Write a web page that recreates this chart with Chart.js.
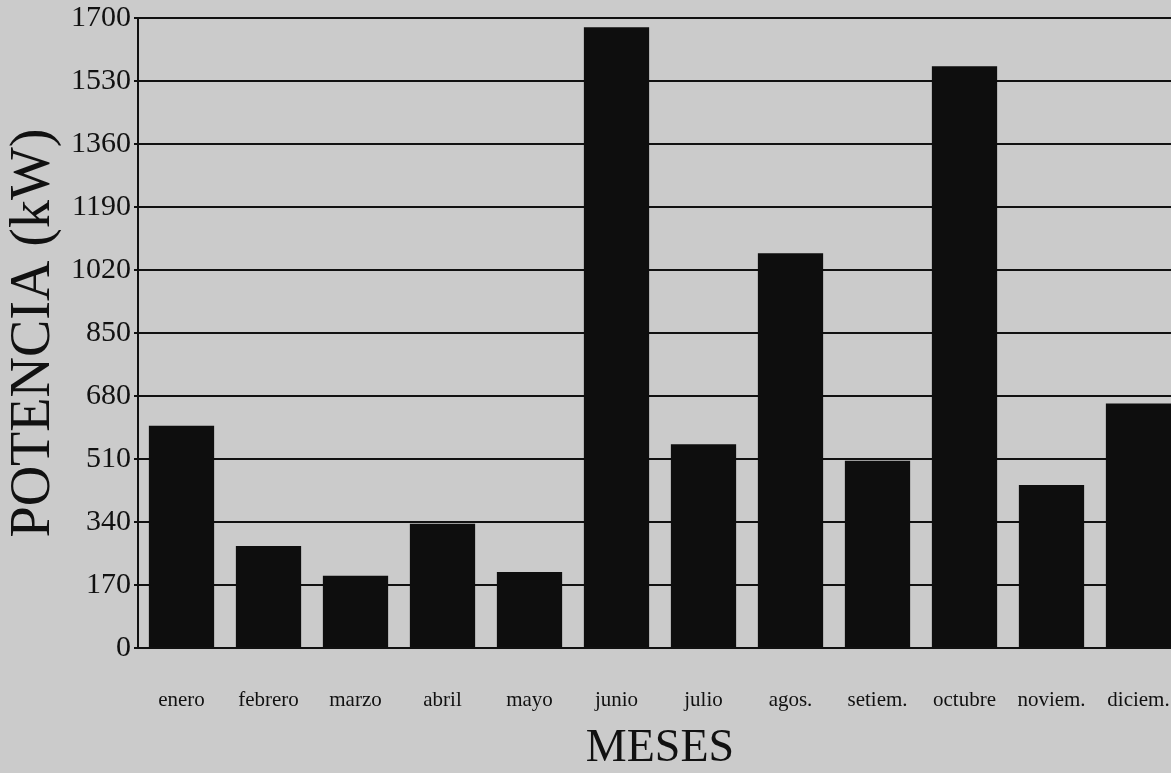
<!DOCTYPE html>
<html>
<head>
<meta charset="utf-8">
<script src="https://cdn.jsdelivr.net/npm/chart.js@4/dist/chart.umd.min.js"></script>
<style>
  html, body { margin: 0; padding: 0; background: #cbcbcb; overflow: hidden; width: 1171px; height: 773px; }
  #wrap { position: absolute; left: 0; top: 0; width: 1192px; height: 773px; }
  #c { display: block; width: 1192px; height: 773px; }
</style>
</head>
<body>
<div id="wrap"><canvas id="c" width="1192" height="773"></canvas></div>
<script>
const months = ["enero", "febrero", "marzo", "abril", "mayo", "junio", "julio", "agos.", "setiem.", "octubre", "noviem.", "diciem."];
const potencia = [600, 275, 195, 335, 205, 1675, 550, 1065, 505, 1570, 440, 660];
const yTicks = [0, 170, 340, 510, 680, 850, 1020, 1190, 1360, 1530, 1700];
const yTitle = "POTENCIA (kW)";
const xTitle = "MESES";

const paper = {
  id: 'paper',
  beforeDraw(chart) {
    const ctx = chart.ctx;
    ctx.save();
    ctx.fillStyle = '#cbcbcb';
    ctx.fillRect(0, 0, chart.width, chart.height);
    ctx.restore();
  }
};

const serif = "'Liberation Serif', 'DejaVu Serif', serif";

new Chart(document.getElementById('c'), {
  type: 'bar',
  data: {
    labels: months,
    datasets: [{
      data: potencia,
      backgroundColor: '#0e0e0e',
      borderWidth: 0,
      categoryPercentage: 1,
      barPercentage: 0.75
    }]
  },
  options: {
    responsive: false,
    maintainAspectRatio: false,
    animation: false,
    layout: { padding: { top: 18, right: 10, left: 0, bottom: 0 } },
    plugins: { legend: { display: false }, tooltip: { enabled: false } },
    scales: {
      x: {
        grid: { drawOnChartArea: false, drawTicks: false },
        border: { display: true, color: '#111', width: 2 },
        ticks: { color: '#111', padding: 40, font: { family: serif, size: 21 }, maxRotation: 0, autoSkip: false },
        title: { display: true, text: xTitle, color: '#111', font: { family: serif, size: 46, lineHeight: 1 }, padding: { top: 0, bottom: 1 } },
        afterFit(scale) { scale.height = 125; scale.paddingLeft = 0; scale.paddingRight = 0; }
      },
      y: {
        min: 0,
        max: 1700,
        afterBuildTicks(scale) { scale.ticks = yTicks.map(v => ({ value: v })); },
        grid: { color: '#111', lineWidth: 2, tickLength: 4 },
        border: { display: true, color: '#111', width: 2 },
        ticks: { color: '#111', padding: 3, font: { family: serif, size: 30 }, callback: v => String(v) },
        title: { display: true, text: yTitle, color: '#111', font: { family: serif, size: 56, lineHeight: 1.1 }, padding: { top: 3, bottom: 0 } },
        afterFit(scale) { scale.width = 138; scale.paddingTop = 0; scale.paddingBottom = 0; }
      }
    }
  },
  plugins: [paper]
});
</script>
</body>
</html>
